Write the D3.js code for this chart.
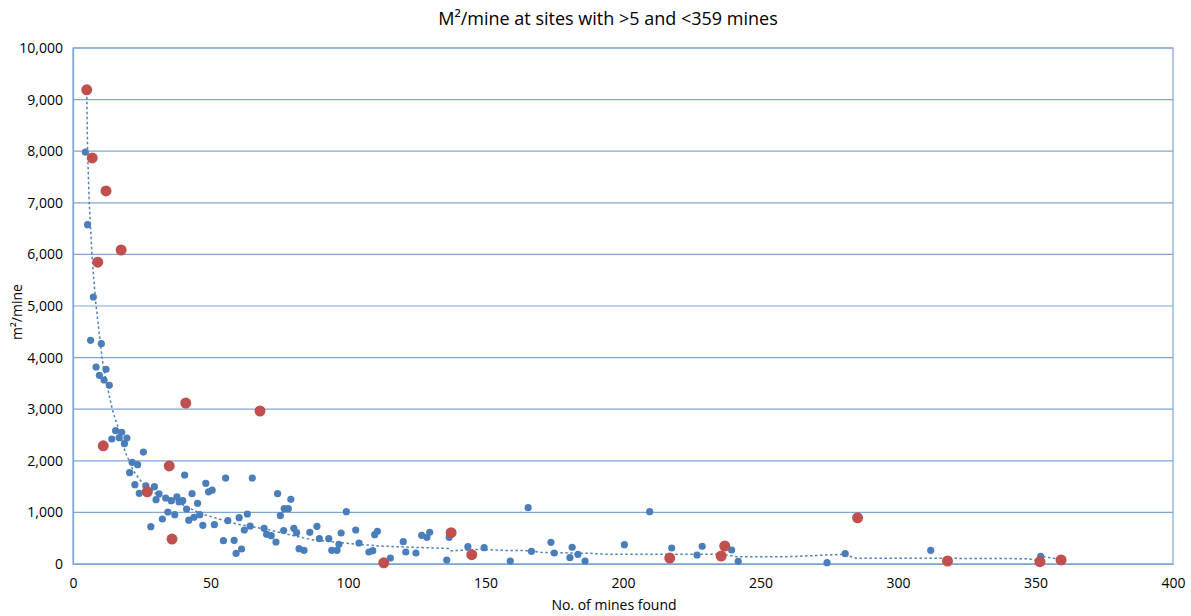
<!DOCTYPE html>
<html>
<head>
<meta charset="utf-8">
<script src="https://cdn.jsdelivr.net/npm/d3@7"></script>
<style>
  body { margin: 0; background: #fff; }
  text { font-family: "Open Sans", sans-serif; fill: #000; }
</style>
</head>
<body>
<div id="plotDiv"></div>
<script>
// sites with mines found vs m2 per mine (blue = main set, red = highlighted sites)
var blueMines = [4.5, 5.3, 6.4, 7.4, 8.4, 9.6, 10.3, 11.3, 12, 13.2, 14.1, 15.5, 16.8, 17.7, 18.7, 19.6,
    20.6, 21.5, 22.5, 23.5, 24.1, 25.6, 26.5, 28.3, 29.6, 30.2, 31.3, 32.5, 33.7, 34.5, 35.7, 37,
    37.8, 38.6, 39.9, 40.6, 41.3, 42.1, 43.3, 44, 45.3, 46.1, 47.2, 48.3, 49.3, 50.6, 51.4, 54.7,
    55.5, 56.3, 58.6, 59.3, 60.4, 61.3, 62.3, 63.4, 64.4, 65.2, 69.5, 70.4, 72.1, 73.8, 74.4, 75.4,
    76.6, 76.8, 78.3, 79.2, 80.3, 81.3, 82.2, 84, 86.1, 88.7, 89.6, 93, 94.1, 96, 96.7, 97.5,
    99.4, 102.8, 104, 107.6, 109, 109.7, 110.7, 115.4, 120.1, 121, 124.7, 126.8, 128.7, 129.7, 135.9, 136.8,
    143.6, 149.5, 159, 165.5, 166.7, 173.8, 175, 180.7, 181.5, 183.6, 186.2, 200.5, 209.7, 217.7, 226.9, 228.8,
    239.5, 241.9, 274.2, 280.8, 311.9, 351.9];
var blueArea = [7984, 6576, 4335, 5174, 3818, 3656, 4270, 3566, 3773, 3463, 2422, 2584, 2448, 2552, 2332, 2442,
    1770, 1971, 1537, 1925, 1370, 2170, 1515, 723, 1499, 1246, 1360, 872, 1279, 1008, 1227, 956,
    1300, 1202, 1227, 1725, 1066, 850, 1363, 905, 1176, 956, 750, 1563, 1398, 1430, 762, 452,
    1667, 839, 459, 204, 897, 291, 659, 969, 734, 1667, 692, 576, 549, 426, 1363, 938,
    648, 1072, 1072, 1254, 692, 607, 297, 265, 614, 731, 490, 490, 265, 265, 382, 601,
    1014, 659, 407, 233, 258, 568, 633, 116, 433, 233, 213, 556, 517, 614, 78, 517,
    336, 317, 58, 1092, 245, 420, 213, 123, 323, 187, 58, 375, 1014, 310, 174, 342,
    271, 52, 26, 200, 265, 149];

var redMines = [5, 7, 12, 9, 17.5, 11, 41, 68, 35, 27, 36, 113, 137.5, 145, 217, 237, 235.7, 285.3, 318, 351.6, 359.3];
var redArea = [9190, 7870, 7230, 5850, 6085, 2290, 3120, 2965, 1900, 1400, 484, 22, 607, 180, 115, 349, 155, 895, 58, 45, 78];

// dotted trend line
var trendMines = [5, 5.3, 5.9, 7, 8.2, 9.8, 11, 13.5, 14.7, 17.1, 19, 22, 25.5, 31.6, 40.1, 46.2, 58.3,
    70.4, 82.5, 87.4, 99.5, 111.6, 123.8, 136.5, 137.5, 148, 155, 166, 170, 188, 194, 224, 236.5, 241.3,
    260, 280, 285, 318, 347, 350.7, 352.8, 359.3];
var trendArea = [9150, 8000, 7000, 5900, 5100, 4340, 3820, 3180, 2920, 2530, 2170, 1800, 1550, 1305, 1143, 982, 788,
    672, 520, 465, 401, 349, 323, 300, 255, 285, 265, 258, 226, 207, 187, 187, 187, 142,
    142, 187, 110, 110, 103, 64, 142, 90];

var xTicks = [0, 50, 100, 150, 200, 250, 300, 350, 400];
var yTicks = [0, 1000, 2000, 3000, 4000, 5000, 6000, 7000, 8000, 9000, 10000];

var margin = {top: 48, right: 18, bottom: 52, left: 73},
    width = 1191 - margin.left - margin.right,
    height = 616 - margin.top - margin.bottom;

var x = d3.scaleLinear().domain([0, 400]).range([0, width]);
var y = d3.scaleLinear().domain([0, 10000]).range([height, 0]);

var svgRoot = d3.select("#plotDiv")
    .append("svg")
        .attr("width", 1191)
        .attr("height", 616);

var svg = svgRoot.append("g")
        .attr("transform", "translate(" + margin.left + "," + margin.top + ")");

// gridlines
svg.append("g")
    .selectAll("line")
    .data(yTicks)
    .enter().append("line")
        .attr("x1", 0)
        .attr("x2", width)
        .attr("y1", function(d) { return y(d); })
        .attr("y2", function(d) { return y(d); })
        .attr("stroke", "#7fa4d6")
        .attr("stroke-width", 1.2);

// plot frame
svg.append("rect")
    .attr("width", width)
    .attr("height", height)
    .attr("fill", "none")
    .attr("stroke", "#7fa4d6")
    .attr("stroke-width", 1.2);

// axes
var xAxis = svg.append("g")
    .attr("transform", "translate(0," + height + ")")
    .call(d3.axisBottom(x).tickValues(xTicks).tickSize(0).tickPadding(14));
var yAxis = svg.append("g")
    .call(d3.axisLeft(y).tickValues(yTicks).tickSize(0).tickPadding(10).tickFormat(d3.format(",")));

[xAxis, yAxis].forEach(function(a) {
    a.select(".domain").attr("stroke", "#7fa4d6").attr("stroke-width", 1.2);
    a.selectAll("text").style("font-family", "'Open Sans', sans-serif").style("font-size", "14px").attr("fill", "#000");
});

// trend line
var line = d3.line()
    .x(function(d, i) { return x(trendMines[i]); })
    .y(function(d, i) { return y(trendArea[i]); });

svg.append("path")
    .datum(trendMines)
    .attr("d", line)
    .attr("fill", "none")
    .attr("stroke", "#4f81bd")
    .attr("stroke-width", 1.5)
    .attr("stroke-dasharray", "2.5,2.5");

// blue points
svg.append("g")
    .selectAll("circle")
    .data(blueMines)
    .enter().append("circle")
        .attr("cx", function(d) { return x(d); })
        .attr("cy", function(d, i) { return y(blueArea[i]); })
        .attr("r", 3.6)
        .attr("fill", "#4a7ebb");

// red points
svg.append("g")
    .selectAll("circle")
    .data(redMines)
    .enter().append("circle")
        .attr("cx", function(d) { return x(d); })
        .attr("cy", function(d, i) { return y(redArea[i]); })
        .attr("r", 5.5)
        .attr("fill", "#c0504d");

// titles
svgRoot.append("text")
    .attr("x", 608)
    .attr("y", 25)
    .attr("text-anchor", "middle")
    .style("font-size", "18px")
    .text("M²/mine at sites with >5 and <359 mines");

svgRoot.append("text")
    .attr("x", 614)
    .attr("y", 610)
    .attr("text-anchor", "middle")
    .style("font-size", "14px")
    .text("No. of mines found");

svgRoot.append("text")
    .attr("transform", "translate(22,312) rotate(-90)")
    .attr("text-anchor", "middle")
    .style("font-size", "14px")
    .text("m²/mine");
</script>
</body>
</html>
